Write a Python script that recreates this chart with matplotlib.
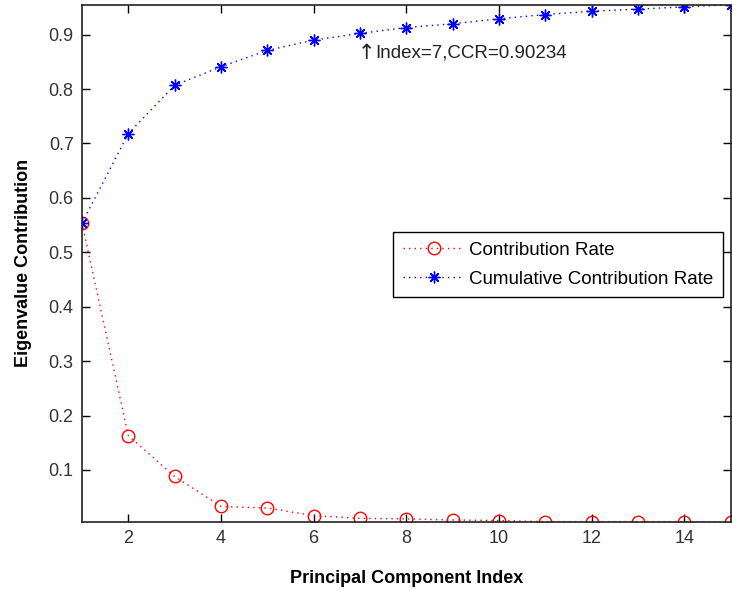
import matplotlib.pyplot as plt

plt.rcParams['font.family'] = ['Liberation Sans', 'DejaVu Sans']

index = list(range(1, 16))
contribution_rate = [0.5535, 0.163, 0.088, 0.033, 0.030, 0.016, 0.011, 0.010,
                     0.008, 0.007, 0.005, 0.005, 0.005, 0.005, 0.004]
cumulative_rate = [0.5535, 0.718, 0.807, 0.841, 0.871, 0.890, 0.90234, 0.913,
                   0.920, 0.929, 0.937, 0.943, 0.947, 0.951, 0.955]
x_ticks = [2, 4, 6, 8, 10, 12, 14]
y_ticks = [0.1, 0.2, 0.3, 0.4, 0.5, 0.6, 0.7, 0.8, 0.9]
mark_idx = 7
mark_ccr = cumulative_rate[mark_idx - 1]

fig = plt.figure(figsize=(7.32, 5.90), dpi=100)
ax = fig.add_axes([0.112, 0.115, 0.886, 0.877])

dots = (0, (1, 3))
ax.plot(index, contribution_rate, color='red', linestyle=dots, linewidth=1,
        marker='o', markersize=9, markerfacecolor='none', markeredgewidth=1,
        label='Contribution Rate')
ax.plot(index, cumulative_rate, color='blue', linestyle=dots, linewidth=1,
        marker=(8, 2, 0), markersize=8.5, markeredgewidth=1,
        label='Cumulative Contribution Rate')

# arrow drawn a bit larger than the text so it reads like the matlab \uparrow
ax.text(mark_idx - 0.05, mark_ccr - 0.036, '\u2191', fontsize=15, color='#222222',
        family=['DejaVu Sans'], ha='left', va='center')
ax.text(mark_idx + 0.32, mark_ccr - 0.036, 'Index=%d,CCR=%.5f' % (mark_idx, mark_ccr),
        fontsize=13.5, color='#222222', ha='left', va='center')

ax.set_xlim(min(index), max(index))
ax.set_ylim(min(contribution_rate), max(cumulative_rate))
ax.set_xticks(x_ticks)
ax.set_yticks(y_ticks)
ax.set_xticklabels([str(t) for t in x_ticks])
ax.set_yticklabels([str(t) for t in y_ticks])
ax.tick_params(direction='in', top=True, right=True, length=6, width=1,
               labelsize=13, labelcolor='#333333', pad=6)
for s in ax.spines.values():
    s.set_linewidth(1.2)
    s.set_color('#222222')

ax.set_xlabel('Principal Component Index', fontsize=13, fontweight='bold', labelpad=16)
ax.set_ylabel('Eigenvalue Contribution', fontsize=13, fontweight='bold', labelpad=12)

leg = ax.legend(loc='upper right', bbox_to_anchor=(0.988, 0.560), fontsize=13.5,
                fancybox=False, framealpha=1, edgecolor='black',
                handlelength=3.3, handletextpad=0.25, borderpad=0.5,
                labelspacing=0.62, borderaxespad=0)
leg.get_frame().set_linewidth(1)

plt.savefig('out.png', dpi=100)
plt.close(fig)
